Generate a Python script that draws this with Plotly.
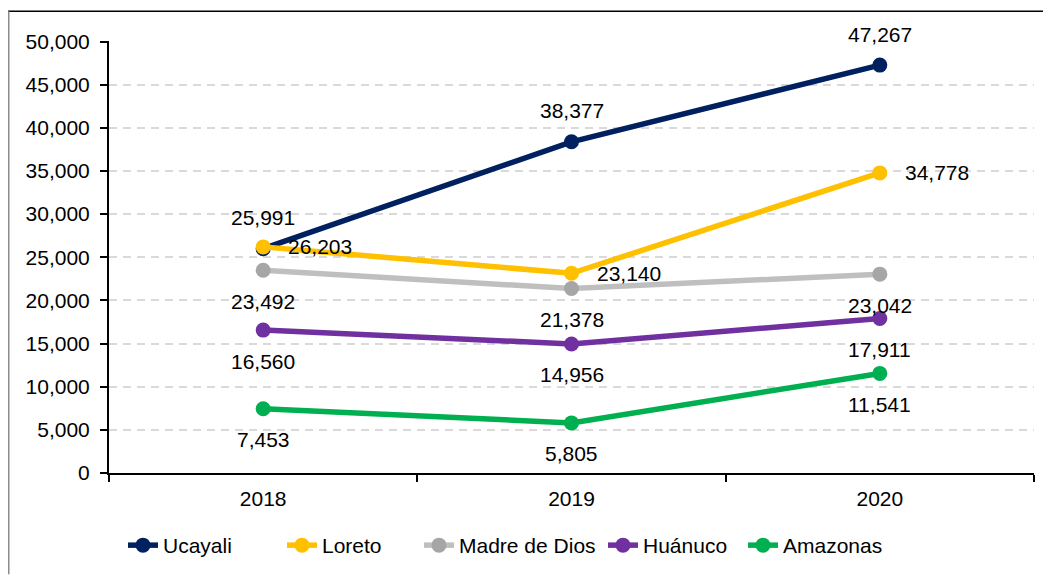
import plotly.graph_objects as go

years = ["2018", "2019", "2020"]
ucayali = [25991, 38377, 47267]
loreto = [26203, 23140, 34778]
madre_de_dios = [23492, 21378, 23042]
huanuco = [16560, 14956, 17911]
amazonas = [7453, 5805, 11541]

# name, values, line colour, marker colour, label placement, legend text start (px)
series = [
    ("Ucayali", ucayali, "#002060", "#002060", "top", 163),
    ("Loreto", loreto, "#FFC000", "#FFC000", "right", 322),
    ("Madre de Dios", madre_de_dios, "#BFBFBF", "#A6A6A6", "bottom", 459),
    ("Huánuco", huanuco, "#7030A0", "#7030A0", "bottom", 643),
    ("Amazonas", amazonas, "#00B050", "#00B050", "bottom", 783),
]

# page has an 8px body margin, so the figure is drawn from (8, 8)
off = 8
W, H = 1043, 570
ml, mr, mt, mb = 101, 17, 33, 102
pw, ph = W - ml - mr, H - mt - mb


def px_x(p):
    return (p - off - ml) / pw


def px_y(p):
    return (H - mb - (p - off)) / ph


font = "Liberation Sans, Arial"
fs = 21
fig = go.Figure()
annotations = []
legends = {}
for i, (name, vals, lc, mc, pos, lx) in enumerate(series):
    lg = "legend" if i == 0 else f"legend{i + 1}"
    fig.add_trace(go.Scatter(
        x=years, y=vals, name=name, mode="lines+markers",
        line=dict(color=lc, width=5.5),
        marker=dict(color=mc, size=15),
        legend=lg,
    ))
    legends[lg] = dict(orientation="h", x=px_x(lx - 40), xanchor="left",
                       y=px_y(549), yanchor="middle", font=dict(size=fs),
                       bgcolor="rgba(0,0,0,0)")
    for j, v in enumerate(vals):
        a = dict(x=j, y=v, xref="x", yref="y", text=f"{v:,}", showarrow=False,
                 font=dict(family=font, size=fs, color="black"))
        if pos == "top":
            a.update(yshift=31, xanchor="center", yanchor="middle")
        elif pos == "bottom":
            a.update(yshift=-31, xanchor="center", yanchor="middle")
        else:
            a.update(xshift=23, xanchor="left", yanchor="middle")
        annotations.append(a)

# chart frame (top black edge, left grey edge)
shapes = [
    dict(type="line", xref="paper", yref="paper", x0=px_x(8), x1=px_x(1051),
         y0=px_y(11), y1=px_y(11), line=dict(color="black", width=1.5)),
    dict(type="line", xref="paper", yref="paper", x0=px_x(8.75), x1=px_x(8.75),
         y0=px_y(11), y1=px_y(578), line=dict(color="#8C8C8C", width=1.5)),
]

fig.update_layout(
    width=W, height=H,
    margin=dict(l=ml, r=mr, t=mt, b=mb),
    paper_bgcolor="white", plot_bgcolor="white",
    font=dict(family=font, size=fs, color="black"),
    annotations=annotations,
    shapes=shapes,
    showlegend=True,
    **legends,
)
fig.update_xaxes(
    type="category", range=[-0.5, 2.5],
    showline=True, linecolor="black", linewidth=2,
    ticks="outside", tickson="boundaries", ticklen=7, tickcolor="black", tickwidth=2,
    ticklabelstandoff=6,
    showgrid=False, zeroline=False,
)
fig.update_yaxes(
    range=[0, 50060], dtick=5000, tickformat=",",
    showline=True, linecolor="black", linewidth=2,
    ticks="outside", ticklen=7, tickcolor="black", tickwidth=2,
    ticklabelstandoff=6,
    showgrid=True, gridcolor="#D9D9D9", gridwidth=1.5, griddash="8px,6px",
    zeroline=False,
)

fig.write_html("out.html")
